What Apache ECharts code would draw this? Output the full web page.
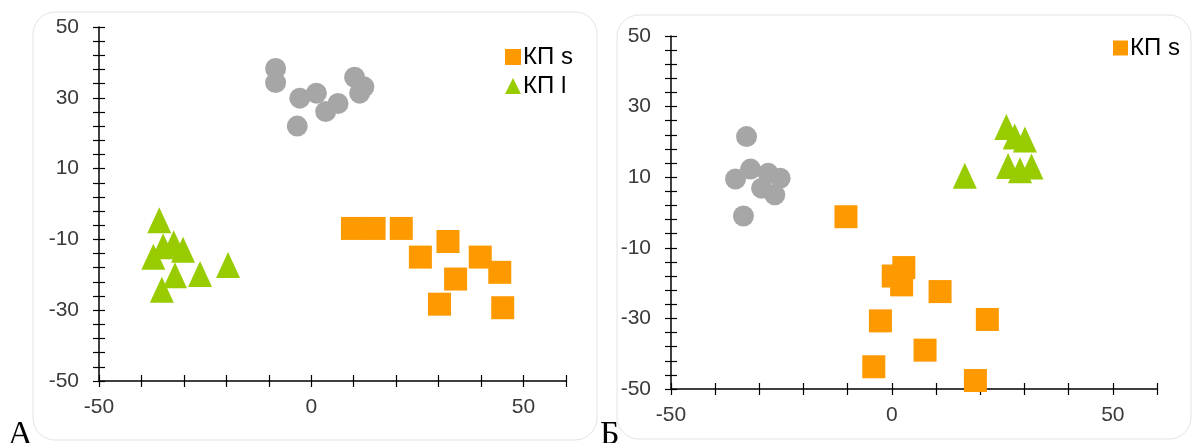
<!DOCTYPE html>
<html>
<head>
<meta charset="utf-8">
<script src="https://cdn.jsdelivr.net/npm/echarts@6/dist/echarts.min.js"></script>
<style>
  html, body { margin: 0; padding: 0; background: #fff; }
  #chart { width: 1193px; height: 443px; }
</style>
</head>
<body>
<div id="chart"></div>
<script>
// панель А
const aGray = [[-8.4, 38.3], [-8.4, 34.3], [-2.7, 29.9], [1.2, 31.3], [3.4, 26.1],
               [6.3, 28.4], [-3.3, 22.0], [10.2, 35.8], [12.4, 33.1], [11.4, 31.3]];
const aSquares = [[9.7, -6.9], [14.8, -6.9], [21.2, -6.9], [25.7, -15.0], [32.2, -10.6],
                  [34.0, -21.2], [39.8, -15.0], [44.4, -19.3], [30.2, -28.3], [45.1, -29.3]];
const aTriangles = [[-35.8, -4.6], [-37.2, -14.9], [-34.9, -11.9], [-32.4, -11.1], [-30.2, -12.9],
                    [-32.1, -20.1], [-26.2, -19.8], [-19.6, -17.2], [-35.2, -24.2]];

// панель Б
const bGray = [[-32.9, 21.5], [-32.0, 12.3], [-35.4, 9.5], [-28.0, 11.1], [-29.5, 6.9],
               [-25.3, 9.7], [-26.5, 5.0], [-33.6, -1.0]];
const bSquares = [[-10.4, -1.2], [2.7, -15.6], [0.3, -18.0], [2.2, -20.5], [10.9, -22.4],
                  [-2.6, -30.7], [21.6, -30.3], [7.5, -39.0], [-4.1, -43.7], [18.9, -47.6]];
const bTriangles = [[16.5, 10.4], [25.9, 24.2], [27.8, 21.5], [30.1, 20.7],
                    [26.3, 13.2], [29.0, 12.0], [31.6, 13.0]];

const xRange = { min: -50, max: 60, step: 10, labelEvery: 50 };
const yRange = { min: -50, max: 50, step: 20, minorSplit: 5 };
const seriesNames = ['КП s', 'КП l'];

const GRAY = '#a6a6a6', ORANGE = '#ff9900', GREEN = '#99cc00';
const labelFont = { color: '#3a3a3a', fontSize: 21, fontFamily: 'Liberation Sans Narrow, Arial Narrow, Liberation Sans, sans-serif' };
const legendFont = { color: '#000', fontSize: 24, lineHeight: 24,
                     fontFamily: 'Liberation Sans, Arial, sans-serif', padding: [0, 0, 0, -3] };

const chart = echarts.init(document.getElementById('chart'), null, { renderer: 'canvas' });

// у каждой оси два экземпляра: штрихи наружу и внутрь, чтобы получить "крестики"
const makeX = (grid, inside) => ({
    type: 'value', gridIndex: grid, position: 'bottom',
    min: xRange.min, max: xRange.max, interval: xRange.step,
    splitLine: { show: false },
    axisLine: { show: !inside, onZero: false, lineStyle: { color: '#000', width: 1.5 } },
    axisTick: { show: true, inside: inside, length: 6, lineStyle: { color: '#000', width: 1.2 } },
    axisLabel: {
        show: !inside, margin: 16, ...labelFont,
        formatter: v => (v % xRange.labelEvery === 0 ? String(v) : '')
    }
});
const makeY = (grid, inside) => ({
    type: 'value', gridIndex: grid, position: 'left',
    min: yRange.min, max: yRange.max, interval: yRange.step,
    splitLine: { show: false },
    axisLine: { show: !inside, onZero: false, lineStyle: { color: '#000', width: 1.5 } },
    axisTick: { show: true, inside: inside, length: 6, lineStyle: { color: '#000', width: 1.2 } },
    minorTick: { show: true, splitNumber: yRange.minorSplit, length: 6, lineStyle: { color: '#000', width: 1.2 } },
    axisLabel: { show: !inside, margin: 20, ...labelFont }
});

const scatter = (name, data, xi, yi, symbol, size, color) => ({
    name, type: 'scatter', xAxisIndex: xi, yAxisIndex: yi,
    data, symbol, symbolSize: size, itemStyle: { color, opacity: 1 },
    clip: false, emphasis: { disabled: true }
});

chart.setOption({
    animation: false,
    backgroundColor: '#fff',
    grid: [
        { left: 99, top: 27, width: 467, height: 354 },
        { left: 671, top: 36, width: 486, height: 353 }
    ],
    xAxis: [makeX(0, false), makeX(0, true), makeX(1, false), makeX(1, true)],
    yAxis: [makeY(0, false), makeY(0, true), makeY(1, false), makeY(1, true)],
    legend: [
        {
            data: [{ name: seriesNames[0], icon: 'rect' }, { name: seriesNames[1], icon: 'triangle' }],
            orient: 'vertical', left: 505, top: 45, padding: 0,
            itemWidth: 16, itemHeight: 16, itemGap: 5,
            textStyle: legendFont, selectedMode: false
        },
        {
            data: [{ name: seriesNames[0], icon: 'rect' }],
            orient: 'vertical', left: 1113, top: 36, padding: 0,
            itemWidth: 15, itemHeight: 15,
            textStyle: legendFont, selectedMode: false
        }
    ],
    series: [
        scatter('gray A', aGray, 0, 0, 'circle', 21, GRAY),
        scatter(seriesNames[0], aSquares, 0, 0, 'rect', 23, ORANGE),
        scatter(seriesNames[1], aTriangles, 0, 0, 'triangle', [24, 26], GREEN),
        scatter('gray B', bGray, 2, 2, 'circle', 21, GRAY),
        scatter(seriesNames[0], bSquares, 2, 2, 'rect', 23, ORANGE),
        scatter(seriesNames[1], bTriangles, 2, 2, 'triangle', [24, 26], GREEN)
    ],
    graphic: [
        { type: 'rect', shape: { x: 33, y: 12, width: 564, height: 428, r: 22 },
          style: { fill: 'none', stroke: '#e3e3e3', lineWidth: 1 }, z: -1 },
        { type: 'rect', shape: { x: 617, y: 15, width: 574, height: 424, r: 22 },
          style: { fill: 'none', stroke: '#e3e3e3', lineWidth: 1 }, z: -1 },
        { type: 'text', left: 8, top: 418,
          style: { text: 'А', fill: '#000', fontSize: 34, fontFamily: 'Liberation Serif, DejaVu Serif, serif' } },
        { type: 'text', left: 600, top: 418,
          style: { text: 'Б', fill: '#000', fontSize: 34, fontFamily: 'Liberation Serif, DejaVu Serif, serif' } }
    ]
});
</script>
</body>
</html>
